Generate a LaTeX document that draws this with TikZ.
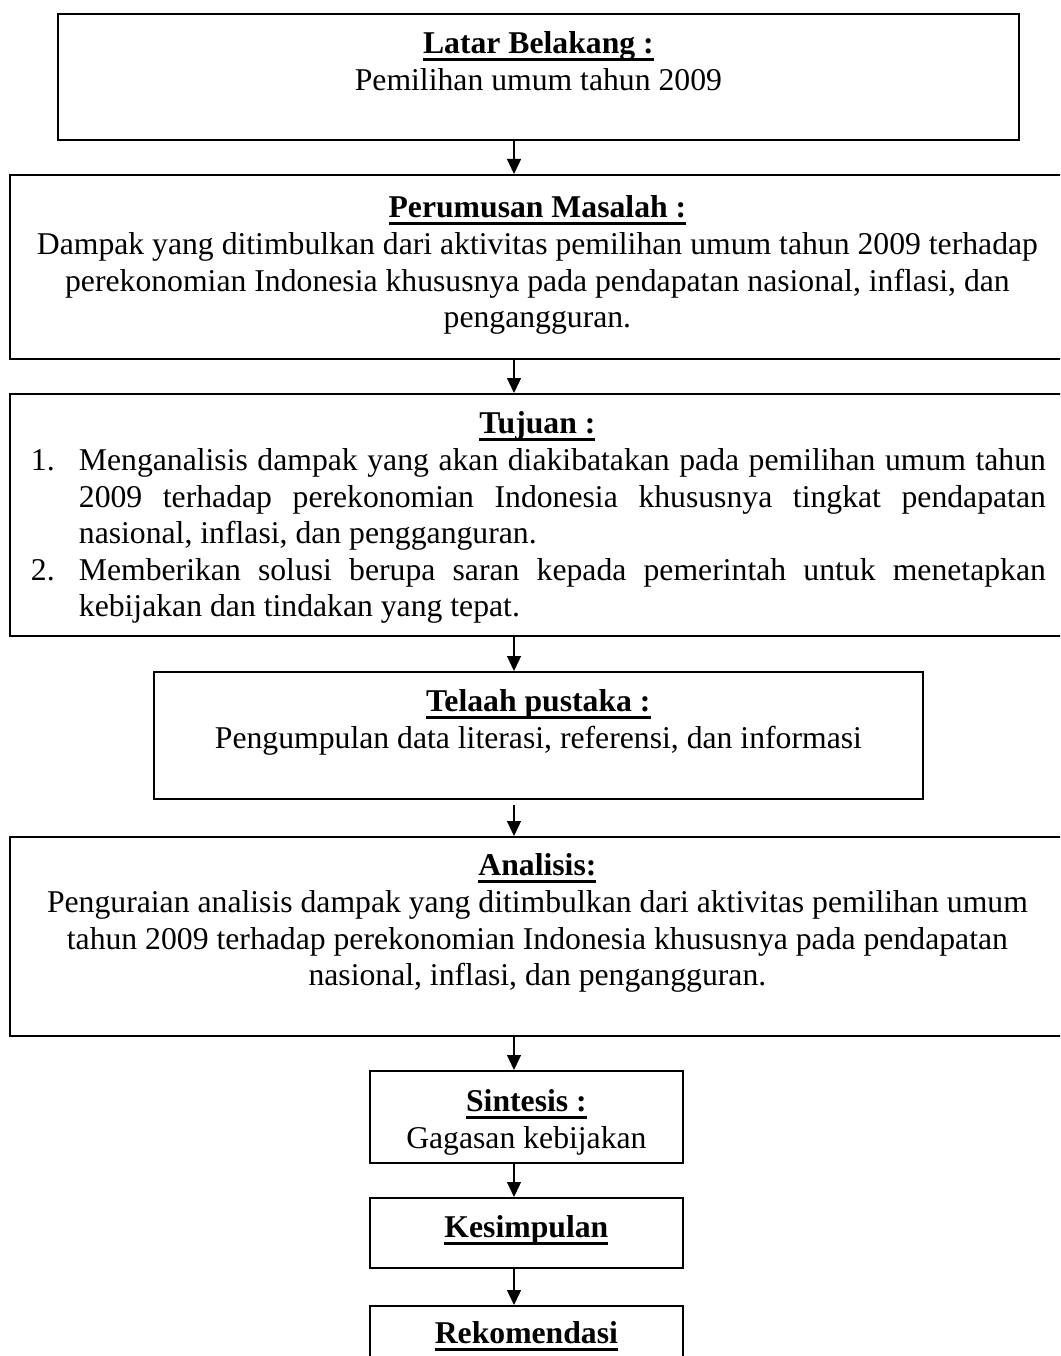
\documentclass[tikz,border=0pt]{standalone}
\usepackage{fontspec}
\setmainfont{Liberation Serif}
\usetikzlibrary{arrows.meta}

% box contents: width, height, text (top aligned)
\newcommand{\isikotak}[3]{\parbox[c][#2][t]{#1}{#3}}
% bold text with a thick underline
\newcommand{\garis}[1]{\setbox0\hbox{\textbf{#1}}\rlap{\rule[-7pt]{\wd0}{2.5pt}}\box0}
% underlined bold heading, baseline 40pt below the box top
\newcommand{\judul}[1]{\rule{0pt}{40pt}\garis{#1}}

\begin{document}
\begin{tikzpicture}[x=1pt, y=-1pt,
    every node/.style={font=\fontsize{31.7}{36.6}\selectfont},
    kotak/.style={draw, line width=1.8pt, inner sep=0pt, anchor=north west},
    panah/.style={-{Triangle[length=15pt,width=14pt]}, line width=1.3pt}]
  \useasboundingbox (0,0) rectangle (1060,1356);
  \clip (0,0) rectangle (1060,1356);

  % Latar belakang
  \node[kotak] (latar) at (57,13) {\isikotak{961pt}{126pt}{\centering
    \judul{Latar Belakang :}\\
    Pemilihan umum tahun 2009}};

  % Perumusan masalah
  \node[kotak] (rumusan) at (9,174) {\isikotak{1055pt}{184pt}{\centering
    \rule{0pt}{43pt}\garis{Perumusan Masalah :}\\
    Dampak yang ditimbulkan dari aktivitas pemilihan umum tahun 2009 terhadap\\
    perekonomian Indonesia khususnya pada pendapatan nasional, inflasi, dan\\
    pengangguran.}};

  % Tujuan
  \node[kotak] (tujuan) at (9,393) {\isikotak{1055pt}{242pt}{\centering
    \judul{Tujuan :}\par
    \leftskip=69pt \rightskip=19pt \parfillskip=0pt plus 1fil
    \hyphenpenalty=10000 \tolerance=10000
    \noindent\llap{\makebox[48pt][l]{1.}}Menganalisis dampak yang akan diakibatakan pada pemilihan umum tahun\linebreak
    2009 terhadap perekonomian Indonesia khususnya tingkat pendapatan\linebreak
    nasional, inflasi, dan pengganguran.\par
    \noindent\llap{\makebox[48pt][l]{2.}}Memberikan solusi berupa saran kepada pemerintah untuk menetapkan\linebreak
    kebijakan dan tindakan yang tepat.\par}};

  % Telaah pustaka
  \node[kotak] (telaah) at (153,671) {\isikotak{769pt}{127pt}{\centering
    \judul{Telaah pustaka :}\\
    Pengumpulan data literasi, referensi, dan informasi}};

  % Analisis
  \node[kotak] (analisis) at (9,836) {\isikotak{1055pt}{199pt}{\centering
    \rule{0pt}{39pt}\garis{Analisis:}\\
    Penguraian analisis dampak yang ditimbulkan dari aktivitas pemilihan umum\\
    tahun 2009 terhadap perekonomian Indonesia khususnya pada pendapatan\\
    nasional, inflasi, dan pengangguran.}};

  % Sintesis, kesimpulan, rekomendasi
  \node[kotak] (sintesis) at (369,1070) {\isikotak{313pt}{92pt}{\centering
    \rule{0pt}{41pt}\garis{Sintesis :}\\
    Gagasan kebijakan}};
  \node[kotak] (kesimpulan) at (369,1197) {\isikotak{313pt}{70pt}{\centering
    \judul{Kesimpulan}}};
  \node[kotak] (rekomendasi) at (369,1305) {\isikotak{313pt}{80pt}{\centering
    \rule{0pt}{38pt}\garis{Rekomendasi}}};

  % Arrows along one vertical line
  \coordinate (sumbu) at (514,0);
  \draw[panah] (latar.south -| sumbu) -- (rumusan.north -| sumbu);
  \draw[panah] (rumusan.south -| sumbu) -- (tujuan.north -| sumbu);
  \draw[panah] (tujuan.south -| sumbu) -- (telaah.north -| sumbu);
  \draw[panah, shorten <=5pt] (telaah.south -| sumbu) -- (analisis.north -| sumbu);
  \draw[panah] (analisis.south -| sumbu) -- (sintesis.north -| sumbu);
  \draw[panah] (sintesis.south -| sumbu) -- (kesimpulan.north -| sumbu);
  \draw[panah] (kesimpulan.south -| sumbu) -- (rekomendasi.north -| sumbu);
\end{tikzpicture}
\end{document}
